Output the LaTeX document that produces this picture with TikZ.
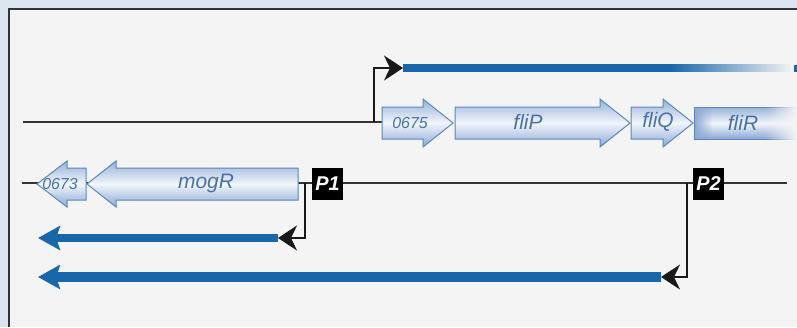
\documentclass[tikz,border=0pt]{standalone}
\usepackage{fontspec}
\setmainfont{Liberation Sans}
\usetikzlibrary{arrows.meta,fadings}
\definecolor{bgblue}{HTML}{DCE6F0}
\definecolor{panel}{HTML}{F4F4F4}
\definecolor{strand}{HTML}{333333}
\definecolor{txblue}{HTML}{1767AA}
\definecolor{geneedge}{HTML}{5C86BD}
\definecolor{genedark}{HTML}{8AA8D5}
\definecolor{genelight}{HTML}{F2F5FB}
\definecolor{genetext}{HTML}{4A72A4}
\tikzset{
  strandline/.style={draw=strand, line width=2bp},
  genebox/.style={draw=geneedge, line width=1bp, top color=genedark!90, bottom color=genedark, middle color=genelight},
  genelabel/.style={text=genetext, font=\fontsize{21}{21}\selectfont\itshape, inner sep=0pt},
  smalllabel/.style={text=genetext, font=\fontsize{16}{16}\selectfont\itshape, inner sep=0pt},
  promoterbox/.style={fill=black, text=white, font=\fontsize{20}{20}\selectfont\bfseries\itshape, minimum width=31bp, minimum height=32bp, inner sep=0pt},
  tssarrow/.style={draw=black!90, line width=2bp, -{Stealth[length=19bp,width=25bp,inset=6bp]}},
  transcript/.style={draw=txblue, line width=#1, -{Stealth[length=22bp,width=24bp,inset=4bp]}},
}
\begin{document}
\begin{tikzpicture}[x=1bp,y=-1bp]
\useasboundingbox (0,0) rectangle (797,327);
% background and panel
\fill[bgblue] (0,0) rectangle (797,327);
\fill[panel] (9,9) rectangle (797,327);
\draw[line width=2.5bp, black!80] (9,327) -- (9,9) -- (797,9);

% strands
\coordinate (topL) at (23,122);
\coordinate (topR) at (382,122);
\coordinate (botL) at (22,183);
\coordinate (botR) at (787,183);
\draw[strandline] (topL) -- (topR);
\draw[strandline] (botL) -- (botR);

% top genes (rightward), centre y=123
\path[genebox] (382,107) -- (423,107) -- (423,99) -- (453,123) -- (423,147) -- (423,139) -- (382,139) -- cycle;
\path[genebox] (455,107) -- (600,107) -- (600,99) -- (630,123) -- (600,147) -- (600,139) -- (455,139) -- cycle;
\path[genebox] (631,107) -- (663,107) -- (663,99) -- (693,123) -- (663,147) -- (663,139) -- (631,139) -- cycle;
\path[genebox] (694,107) -- (800,107) -- (800,139) -- (694,139) -- cycle;
\fill[geneedge!70, path fading=east] (694.5,107.5) rectangle (712,138.5);
\fill[panel, path fading=west] (765,106) rectangle (797,140);

\node[smalllabel] (l0675) at (410,123) {0675};
\node[genelabel] (lfliP) at (528,122) {fliP};
\node[genelabel] (lfliQ) at (658,122) {fliQ};
\node[genelabel] (lfliR) at (743,123) {fliR};

% bottom genes (leftward), centre y=184
\path[genebox] (86,168) -- (67,168) -- (67,161) -- (37,184) -- (67,207) -- (67,200) -- (86,200) -- cycle;
\path[genebox] (298,168) -- (116,168) -- (116,161) -- (87,184) -- (116,207) -- (116,200) -- (298,200) -- cycle;
\node[smalllabel] (l0673) at (60,184) {0673};
\node[genelabel] (lmogR) at (206,183) {mogR};

% promoter boxes
\node[promoterbox] (P1) at (327.5,184) {P1};
\node[promoterbox] (P2) at (708.5,184) {P2};

% top transcription start and transcript
\coordinate (tss0) at (374,122);
\coordinate (tx0a) at (403,68);
\coordinate (tx0e) at (791,68);
\draw[txblue, line width=8bp] (tx0a) -- (tx0e);
\fill[panel, path fading=west] (670,63) rectangle (792,73);
\draw[tssarrow] (tss0) |- (tx0a);
\fill[txblue] (794,64.5) rectangle (797,71.5);

% P1 transcript
\coordinate (tss1) at (305,183);
\coordinate (tx1a) at (278,238);
\coordinate (tx1e) at (38,238);
\draw[transcript=8bp] (tx1a) -- (tx1e);
\draw[tssarrow] (tss1) |- (tx1a);

% P2 transcript
\coordinate (tss2) at (687,183);
\coordinate (tx2a) at (661,277);
\coordinate (tx2e) at (38,277);
\draw[transcript=10bp] (tx2a) -- (tx2e);
\draw[tssarrow] (tss2) |- (tx2a);
\end{tikzpicture}
\end{document}
